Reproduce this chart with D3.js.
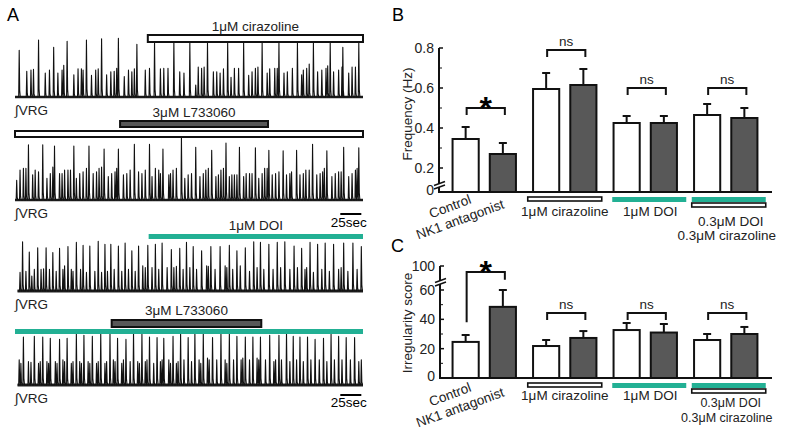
<!DOCTYPE html>
<html><head><meta charset="utf-8">
<script src="https://cdn.jsdelivr.net/npm/d3@7"></script>
<style>
html,body{margin:0;padding:0;background:#fff;}
svg{display:block;font-family:"Liberation Sans",Arial,sans-serif;}
</style></head>
<body>
<svg id="fig" width="791" height="430"></svg>
<script>
// ---------------- DATA ----------------
// Panel A: integrated VRG traces, spike times (s) and amplitudes (% of full scale)
const trace1Big = [[5,78],[28,95],[46,83],[62,93],[85,95],[103,97],[123,98],[145,88],[166,92],[189,92],[208,90],[229,90],[253,90],[272,90],[294,90],[314,90],[336,90],[355,90],[375,90],[390,83],[409,90]];
const trace1Small = [[14,43],[19,45],[22,46],[36,40],[41,45],[51,40],[56,45],[58,53],[70,37],[75,47],[79,47],[81,45],[91,36],[96,45],[99,47],[109,37],[114,42],[118,43],[121,48],[130,34],[135,45],[139,42],[142,47],[155,45],[160,48],[173,47],[177,48],[182,48],[196,42],[201,40],[215,20],[218,50],[222,48],[225,50],[236,42],[240,42],[244,40],[248,47],[257,33],[261,48],[266,48],[278,36],[282,42],[286,48],[289,50],[300,40],[303,47],[309,48],[312,48],[320,40],[324,42],[330,48],[341,37],[343,45],[347,48],[350,55],[360,42],[365,45],[370,48],[372,52],[379,42],[385,45],[389,50],[397,40],[401,50],[405,50]];
const trace2Big = [[16,92],[33,92],[47,90],[70,90],[88,90],[106,85],[123,85],[142,93],[160,93],[176,85],[198,105],[215,88],[234,83],[251,95],[267,88],[286,87],[302,83],[319,82],[335,83],[354,93],[371,82],[391,88],[409,87]];
const trace2Small = [[2,33],[6,50],[10,53],[13,53],[21,42],[24,50],[28,47],[38,36],[42,44],[45,55],[53,44],[56,44],[59,50],[63,50],[66,50],[73,36],[77,44],[81,47],[85,53],[93,44],[97,47],[100,53],[103,55],[111,39],[115,44],[119,47],[121,53],[129,42],[133,44],[137,50],[147,47],[151,44],[155,50],[163,39],[167,53],[171,50],[173,44],[183,42],[185,44],[188,50],[192,53],[202,36],[206,42],[210,44],[220,39],[224,44],[227,50],[230,53],[239,39],[242,42],[245,50],[248,53],[255,39],[258,42],[261,42],[264,42],[272,39],[275,44],[279,44],[282,44],[290,36],[294,44],[297,53],[300,53],[306,42],[310,44],[314,47],[323,42],[327,44],[329,47],[339,42],[343,44],[346,50],[350,50],[359,42],[363,44],[366,47],[368,53],[377,39],[381,44],[385,47],[388,47],[397,39],[401,44],[405,50],[407,53]];
const trace3Big = [[9,82],[17,65],[27,72],[37,72],[45,64],[53,71],[63,74],[73,81],[81,76],[89,75],[99,83],[107,78],[114,78],[123,75],[131,80],[139,67],[147,75],[158,76],[167,78],[175,80],[186,69],[196,71],[204,81],[212,74],[222,67],[233,74],[244,74],[255,76],[264,67],[274,72],[284,82],[292,81],[302,78],[312,81],[321,82],[332,75],[341,71],[351,81],[360,78],[369,80],[379,78],[391,80],[402,80],[412,74]];
const trace3Small = [[6,31],[13,33],[20,25],[23,36],[31,36],[34,37],[41,36],[49,33],[57,36],[59,42],[67,36],[69,33],[78,36],[85,31],[95,33],[103,31],[110,33],[118,36],[127,33],[135,36],[143,33],[152,42],[155,39],[163,39],[171,36],[181,39],[189,39],[192,41],[200,36],[208,39],[216,36],[228,42],[230,41],[238,36],[250,42],[252,39],[259,36],[268,42],[279,33],[288,39],[296,36],[307,36],[316,39],[327,36],[336,39],[345,36],[347,39],[355,31],[365,36],[374,33],[385,36],[388,39],[396,33],[407,36]];
const trace4Big = [[10,80],[23,81],[33,80],[42,78],[53,76],[62,78],[73,85],[82,83],[92,81],[102,87],[113,87],[122,78],[132,76],[141,87],[151,85],[160,80],[169,79],[177,78],[188,81],[197,86],[206,79],[214,87],[224,86],[235,79],[245,87],[255,85],[264,81],[274,80],[283,80],[292,80],[303,83],[314,83],[323,86],[331,81],[339,80],[348,80],[357,76],[367,78],[376,85],[385,81],[394,79],[404,79]];
const trace4Small = [[5,42],[7,36],[16,39],[19,38],[28,36],[30,39],[38,39],[40,36],[48,39],[50,36],[57,42],[59,39],[67,36],[69,39],[77,39],[79,36],[87,39],[89,36],[97,36],[99,39],[107,36],[109,39],[117,42],[119,39],[127,36],[129,42],[137,39],[146,39],[148,36],[155,39],[157,42],[165,36],[173,39],[175,42],[183,42],[185,36],[192,36],[194,39],[201,42],[210,39],[219,42],[221,36],[229,45],[231,42],[240,42],[250,42],[252,36],[260,42],[269,42],[271,45],[279,42],[288,45],[290,42],[298,42],[308,39],[310,42],[317,42],[327,39],[335,42],[343,39],[352,42],[362,42],[371,39],[380,42],[389,42],[399,42],[409,39],[412,42]];
const traceDuration = 414;          // s shown per trace
const scaleBarSec = 25;
// drug application periods (s)
const drugBars = [
  {trace:0, name:"1μM cirazoline", start:158, end:414, kind:"open"},
  {trace:1, name:"3μM L733060", start:125, end:301, kind:"dark"},
  {trace:1, name:"", start:0, end:414, kind:"open"},
  {trace:2, name:"1μM DOI", start:159, end:414, kind:"teal"},
  {trace:3, name:"3μM L733060", start:115, end:293, kind:"dark"},
  {trace:3, name:"", start:0, end:414, kind:"teal"}
];

// Panels B & C
const groups = ["Control", "1μM cirazoline", "1μM DOI", "0.3μM DOI + 0.3μM cirazoline"];
const conditions = ["without", "NK1 antagonist"];
const freqMean = [[0.345,0.27],[0.595,0.615],[0.425,0.425],[0.465,0.45]];
const freqErr  = [[0.06,0.055],[0.08,0.08],[0.035,0.035],[0.055,0.05]];
const irrMean  = [[24.6,48.5],[21.8,27.3],[32.7,31.0],[25.9,30.0]];
const irrErr   = [[4.7,11.5],[4.1,4.7],[4.8,5.8],[4.1,4.8]];
const signif   = ["*","ns","ns","ns"];
const freqTicks = [0,0.2,0.4,0.6,0.8];
const freqMinor = [0.3,0.5,0.7];
const irrTicks = [0,20,40,60,100];
const irrMinor = [10,30,50];
const freqBrackets = [{level:0.5, l:0.465, r:0.465},{level:0.79,l:0.755,r:0.755},{level:0.6,l:0.565,r:0.565},{level:0.6,l:0.565,r:0.565}];
const irrBrackets  = [{level:90, l:38, r:77},{level:44.3,l:39.5,r:39.5},{level:44.3,l:39.5,r:39.5},{level:44.3,l:39.5,r:39.5}];

// ---------------- DRAWING ----------------
const TEAL = "#22b094", DARK = "#585858";
const svg = d3.select("#fig");
const FONT = 13.5;

// panel letters
[["A",7,21],["B",392,21],["C",391,252]].forEach(([t,x,y]) =>
  svg.append("text").attr("x",x).attr("y",y).attr("font-size",18).text(t));

// ---- Panel A ----
const tX = d3.scaleLinear().domain([0,traceDuration]).range([15,363]);
const baselines = [97,200,291,385];
const traces = [[trace1Big,trace1Small],[trace2Big,trace2Small],[trace3Big,trace3Small],[trace4Big,trace4Small]];
traces.forEach(([big,small],i) => {
  const base = baselines[i];
  const y = d3.scaleLinear().domain([0,100]).range([base, base-60]);
  const ev = big.concat(small).sort((a,b)=>a[0]-b[0]);
  const pts = [[tX.domain()[0] + (i>1?3:0),0]];
  ev.forEach(([t,a]) => { pts.push([t-0.6,0],[t,a],[t+0.6,a*0.14],[t+1.3,0]); });
  pts.push([traceDuration,0]);
  const line = d3.line().x(d=>tX(d[0])).y(d=>y(d[1]));
  svg.append("path").attr("d", line([pts[0], pts[pts.length-1]]))
     .attr("stroke","#222").attr("stroke-width",i>1?3:2.6).attr("fill","none");
  svg.append("path").attr("d", line(pts)).attr("stroke","#111")
     .attr("stroke-width",1.1).attr("fill","none").attr("stroke-linejoin","round");
  svg.append("text").attr("x",15).attr("y",[115,218,309,403][i]).attr("font-size",FONT).attr("fill","#222").text("∫VRG");
});
// scale bars
[[1,214,227],[3,395,407]].forEach(([ti,yb,yl]) => {
  const x1 = tX(traceDuration-2-scaleBarSec), x2 = tX(traceDuration-2);
  svg.append("line").attr("x1",x1).attr("x2",x2).attr("y1",yb).attr("y2",yb).attr("stroke","#000").attr("stroke-width",2);
  svg.append("text").attr("x",(x1+x2)/2-2).attr("y",yl).attr("text-anchor","middle").attr("font-size",FONT).text(scaleBarSec+"sec");
});
// drug bars
const barGeo = [ {y:35,h:7,ly:31}, {y:121,h:6,ly:117}, {y:131,h:6,ly:0}, {y:234,h:5,ly:230}, {y:320,h:7,ly:315}, {y:329,h:5,ly:0} ];
drugBars.forEach((d,i) => {
  const g = barGeo[i];
  const x1 = tX(d.start), x2 = tX(d.end);
  const r = svg.append("rect").attr("x",x1).attr("y",g.y).attr("width",x2-x1).attr("height",g.h);
  if (d.kind==="open") r.attr("fill","#fff").attr("stroke","#111").attr("stroke-width",2);
  else if (d.kind==="dark") r.attr("fill",DARK).attr("stroke","#111").attr("stroke-width",2);
  else r.attr("fill",TEAL);
  if (d.name) svg.append("text").attr("x",(x1+x2)/2).attr("y",g.ly).attr("text-anchor","middle").attr("font-size",FONT).attr("fill","#222").text(d.name);
});

// ---- Panels B & C ----
const gx = d3.scaleBand().domain(groups).range([444,766]);
const inner = d3.scaleBand().domain(conditions).range([0,gx.bandwidth()]).paddingInner(0.297).paddingOuter(0.23);

function barPanel(o) {
  const y = o.y;
  const g = svg.append("g");
  groups.forEach((grp,gi) => {
    conditions.forEach((c,ci) => {
      const x = gx(grp)+inner(c), w = inner.bandwidth();
      const m = o.mean[gi][ci], e = o.err[gi][ci];
      const cx = x + w/2;
      g.append("line").attr("x1",cx).attr("x2",cx).attr("y1",y(m)).attr("y2",y(m+e)).attr("stroke","#111").attr("stroke-width",2);
      g.append("line").attr("x1",cx-4).attr("x2",cx+4).attr("y1",y(m+e)).attr("y2",y(m+e)).attr("stroke","#111").attr("stroke-width",2);
      g.append("rect").attr("x",x).attr("y",y(m)).attr("width",w).attr("height",y(0)-y(m))
        .attr("fill",ci===0?"#fff":DARK).attr("stroke","#111").attr("stroke-width",2);
    });
    const b = o.brackets[gi];
    const xl = gx(grp)+inner(conditions[0])+inner.bandwidth()/2+1;
    const xr = gx(grp)+inner(conditions[1])+inner.bandwidth()/2+2;
    g.append("path").attr("d",`M${xl},${y(b.l)}V${y(b.level)}H${xr}V${y(b.r)}`)
      .attr("fill","none").attr("stroke","#111").attr("stroke-width",2);
    const s = signif[gi];
    if (s==="*") g.append("text").attr("x",(xl+xr)/2).attr("y",y(b.level)+11).attr("text-anchor","middle").attr("font-size",32).attr("font-weight","bold").text("*");
    else g.append("text").attr("x",(xl+xr)/2).attr("y",y(b.level)-4).attr("text-anchor","middle").attr("font-size",FONT).attr("fill","#222").text(s);
  });
  const ax = o.axisX, y0 = y(0);
  g.append("line").attr("x1",ax).attr("x2",772).attr("y1",y0).attr("y2",y0).attr("stroke","#111").attr("stroke-width",2);
  g.append("line").attr("x1",ax).attr("x2",ax).attr("y1",y0+1).attr("y2",y(o.ticks[o.ticks.length-1])).attr("stroke","#111").attr("stroke-width",2);
  o.ticks.forEach(t => {
    g.append("line").attr("x1",ax).attr("x2",ax+4).attr("y1",y(t)).attr("y2",y(t)).attr("stroke","#111").attr("stroke-width",1.5);
    g.append("text").attr("x",ax-5).attr("y",y(t)+(t===0?3:5)).attr("text-anchor","end").attr("font-size",14).attr("fill","#222").text(o.fmt(t));
  });
  o.minor.forEach(t => g.append("line").attr("x1",ax).attr("x2",ax+3).attr("y1",y(t)).attr("y2",y(t)).attr("stroke","#111").attr("stroke-width",1));
  const bk = o.breakY;
  g.append("path").attr("d",`M${ax-5},${bk+1.5}L${ax+6},${bk-2.5}L${ax+6},${bk+1}L${ax-5},${bk+5}Z`).attr("fill","#fff");
  g.append("line").attr("x1",ax-5).attr("y1",bk+1.5).attr("x2",ax+6).attr("y2",bk-2.5).attr("stroke","#111").attr("stroke-width",1.5);
  g.append("line").attr("x1",ax-5).attr("y1",bk+5).attr("x2",ax+6).attr("y2",bk+1).attr("stroke","#111").attr("stroke-width",1.5);
  g.append("text").attr("transform",`translate(${o.labelX},${o.labelY}) rotate(-90)`).attr("text-anchor","middle")
    .attr("font-size",o.labelSize).attr("fill","#222").text(o.label);
  const ib = y0+5;
  const ind = (gi,row,kind) => {
    const c = gx(groups[gi])+gx.bandwidth()/2 + (gi===2?4:0) + (gi===3?3:0);
    const r = g.append("rect").attr("x",c-37).attr("width",74).attr("y",ib+row*6).attr("height",kind==="teal"?5:4);
    if (kind==="teal") r.attr("fill",TEAL); else r.attr("fill","#fff").attr("stroke","#111").attr("stroke-width",1.6);
  };
  ind(1,0,"open"); ind(2,0,"teal"); ind(3,0,"teal"); ind(3,1,"open");
  const c0 = gx(groups[0]);
  g.append("text").attr("transform",`translate(${c0+28},${o.lab1}) rotate(-21)`).attr("text-anchor","end").attr("font-size",FONT).attr("fill","#222").text("Control");
  g.append("text").attr("transform",`translate(${c0+61},${o.lab1+5}) rotate(-20)`).attr("text-anchor","end").attr("font-size",FONT).attr("fill","#222").text("NK1 antagonist");
  const cc = gi => gx(groups[gi])+gx.bandwidth()/2;
  g.append("text").attr("x",cc(1)).attr("y",o.lab2).attr("text-anchor","middle").attr("font-size",FONT).attr("fill","#222").text(groups[1]);
  g.append("text").attr("x",cc(2)+5).attr("y",o.lab2).attr("text-anchor","middle").attr("font-size",FONT).attr("fill","#222").text(groups[2]);
  const parts = groups[3].split(" + ");
  g.append("text").attr("x",cc(3)+5).attr("y",o.lab3[0]).attr("text-anchor","middle").attr("font-size",o.lab3[2]).attr("fill","#222").text(parts[0]);
  g.append("text").attr("x",cc(3)+1).attr("y",o.lab3[1]).attr("text-anchor","middle").attr("font-size",o.lab3[2]).attr("fill","#222").text(parts[1]);
}

barPanel({
  mean:freqMean, err:freqErr, brackets:freqBrackets,
  y: d3.scaleLinear().domain([0,0.2,0.8]).range([192,168,48]),
  ticks:freqTicks, minor:freqMinor, fmt:d=> d===0?"0":d3.format(".1f")(d),
  axisX:439, breakY:184, label:"Frequency (Hz)", labelX:412, labelY:114, labelSize:13.5,
  lab1:203, lab2:216, lab3:[226,240,13.5]
});
barPanel({
  mean:irrMean, err:irrErr, brackets:irrBrackets,
  y: d3.scaleLinear().domain([0,60,100]).range([378,290,266]),
  ticks:irrTicks, minor:irrMinor, fmt:d=>String(d),
  axisX:440, breakY:281, label:"Irregularity score", labelX:412, labelY:323, labelSize:13.5,
  lab1:391, lab2:400, lab3:[407,422,12.5]
});
</script>
</body></html>
